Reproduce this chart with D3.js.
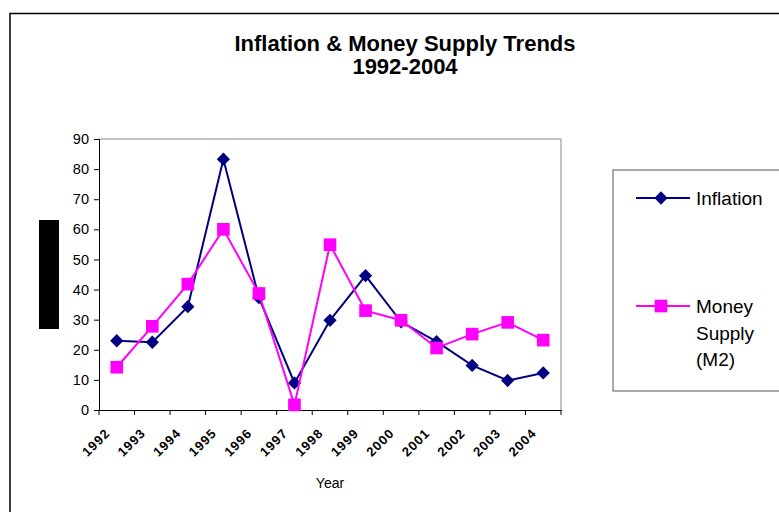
<!DOCTYPE html>
<html>
<head>
<meta charset="utf-8">
<script src="https://cdn.jsdelivr.net/npm/d3@7"></script>
<style>
  body { margin: 0; background: #fff; }
  svg { font-family: "Liberation Sans", Arial, sans-serif; }
</style>
</head>
<body>
<svg id="chart" width="779" height="512"></svg>
<script>
// data
const years = ["1992", "1993", "1994", "1995", "1996", "1997", "1998", "1999", "2000", "2001", "2002", "2003", "2004"];
const inflation = [23, 22.5, 34.3, 83.3, 37.3, 9, 29.8, 44.6, 29.3, 22.7, 14.8, 9.8, 12.3];
const moneySupply = [14.2, 27.8, 41.8, 60, 38.7, 1.7, 54.9, 33, 29.8, 20.6, 25.2, 29.1, 23.2];
const yTicks = [0, 10, 20, 30, 40, 50, 60, 70, 80, 90];

// diamond = square turned 45 degrees
const series = [
  { name: ["Inflation"], values: inflation, color: "#000080", size: 88, rot: 45 },
  { name: ["Money", "Supply", "(M2)"], values: moneySupply, color: "#ff00ff", size: 160, rot: 0 }
];

const svg = d3.select("#chart");
const plotL = 99, plotR = 561, plotT = 139, plotB = 410;

// outer chart frame
svg.append("rect")
  .attr("x", 10).attr("y", 13.5)
  .attr("width", 800).attr("height", 520)
  .attr("fill", "none").attr("stroke", "#000").attr("stroke-width", 1.5);

// title
svg.append("text").attr("x", 405).attr("y", 51)
  .attr("text-anchor", "middle").style("font-size", "22px").style("font-weight", "bold")
  .text("Inflation & Money Supply Trends");
svg.append("text").attr("x", 405).attr("y", 74)
  .attr("text-anchor", "middle").style("font-size", "22px").style("font-weight", "bold")
  .text("1992-2004");

const x = d3.scaleBand().domain(years).range([plotL, plotR]);
const y = d3.scaleLinear().domain([0, 90]).range([plotB, plotT]);

// plot area border (top / right in gray)
svg.append("path")
  .attr("d", `M${plotL},${plotT}H${plotR}V${plotB}`)
  .attr("fill", "none").attr("stroke", "#888").attr("stroke-width", 1);

// y axis
const yAxis = svg.append("g")
  .attr("transform", `translate(${plotL},0)`)
  .call(d3.axisLeft(y).tickValues(yTicks).tickSize(5).tickPadding(5));
yAxis.select(".domain").attr("stroke", "#000");
yAxis.selectAll("text").style("font-size", "14.5px").style("font-family", "Liberation Sans, Arial, sans-serif");

// x axis with ticks between categories
const xAxis = svg.append("g")
  .attr("transform", `translate(0,${plotB})`)
  .call(d3.axisBottom(x).tickSize(0).tickFormat(""));
xAxis.select(".domain").attr("stroke", "#000");
xAxis.selectAll(".bound")
  .data(d3.range(years.length + 1))
  .enter().append("line")
  .attr("class", "bound")
  .attr("x1", i => plotL + i * x.step()).attr("x2", i => plotL + i * x.step())
  .attr("y1", 0).attr("y2", 5)
  .attr("stroke", "#000");

svg.append("g").selectAll("text")
  .data(years)
  .enter().append("text")
  .attr("transform", d => `translate(${x(d) + x.bandwidth() / 2 - 6},${plotB + 24}) rotate(-45)`)
  .attr("text-anchor", "end")
  .style("font-size", "13px")
  .style("font-weight", "bold")
  .style("letter-spacing", "1px")
  .text(d => d);

svg.append("text").attr("x", 330).attr("y", 488)
  .attr("text-anchor", "middle").style("font-size", "14px").text("Year");

// obscured y axis title
svg.append("rect").attr("x", 39).attr("y", 220).attr("width", 20).attr("height", 109).attr("fill", "#000");

// lines and markers
const line = d3.line()
  .x((d, i) => x(years[i]) + x.bandwidth() / 2)
  .y(d => y(d));

series.forEach(s => {
  svg.append("path")
    .datum(s.values)
    .attr("d", line)
    .attr("fill", "none")
    .attr("stroke", s.color)
    .attr("stroke-width", 2);
  svg.append("g").selectAll("path")
    .data(s.values)
    .enter().append("path")
    .attr("transform", (d, i) => `translate(${x(years[i]) + x.bandwidth() / 2},${y(d)}) rotate(${s.rot})`)
    .attr("d", d3.symbol().type(d3.symbolSquare).size(s.size))
    .attr("fill", s.color);
});

// legend
svg.append("rect")
  .attr("x", 613).attr("y", 170).attr("width", 200).attr("height", 221)
  .attr("fill", "#fff").attr("stroke", "#555").attr("stroke-width", 1);

const legendY = [198, 306];
series.forEach((s, i) => {
  const g = svg.append("g").attr("transform", `translate(0,${legendY[i]})`);
  g.append("line").attr("x1", 636).attr("x2", 690).attr("stroke", s.color).attr("stroke-width", 2);
  g.append("path")
    .attr("transform", `translate(661,0) rotate(${s.rot})`)
    .attr("d", d3.symbol().type(d3.symbolSquare).size(s.size))
    .attr("fill", s.color);
  g.selectAll("text")
    .data(s.name)
    .enter().append("text")
    .attr("x", 696)
    .attr("y", (d, j) => 7 + j * 26.5)
    .style("font-size", "19px")
    .text(d => d);
});
</script>
</body>
</html>
